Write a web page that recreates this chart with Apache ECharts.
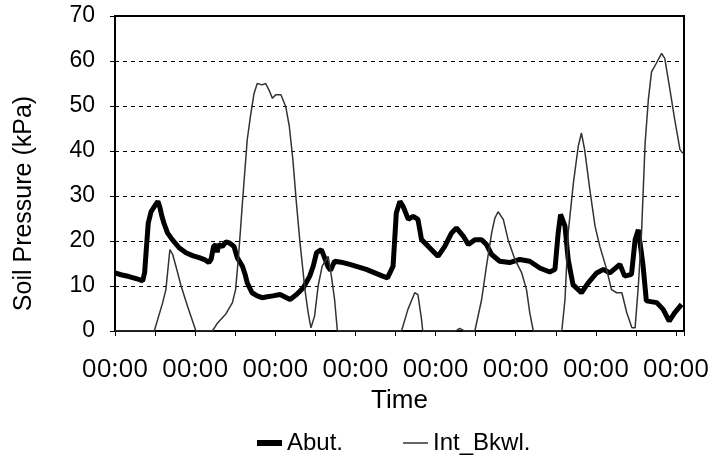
<!DOCTYPE html>
<html>
<head>
<meta charset="utf-8">
<script src="https://cdn.jsdelivr.net/npm/echarts@6/dist/echarts.min.js"></script>
<style>
  html, body { margin: 0; padding: 0; background: #fff; }
  #chart { width: 714px; height: 465px; }
</style>
</head>
<body>
<div id="chart"></div>
<script>
// time axis is in tick units (one unit per tick, label every 2 ticks)
const tickLabels = ['00:00', '00:00', '00:00', '00:00', '00:00', '00:00', '00:00', '00:00']

const abutTime = [
  0.00, 0.15, 0.35, 0.55, 0.69, 0.74, 0.78, 0.83, 0.90, 0.97, 1.07, 1.12, 1.17, 1.22, 1.31, 1.43,
  1.60, 1.77, 1.95, 2.10, 2.25, 2.34, 2.40, 2.46, 2.51, 2.55, 2.59, 2.68, 2.77, 2.85, 2.97, 3.05,
  3.18, 3.25, 3.30, 3.42, 3.55, 3.67, 3.80, 3.94, 4.12, 4.28, 4.37, 4.53, 4.70, 4.86, 4.95, 5.03,
  5.15, 5.23, 5.32, 5.38, 5.48, 5.64, 5.86, 6.27, 6.68, 6.80, 6.94, 7.02, 7.11, 7.19, 7.32, 7.44,
  7.56, 7.65, 7.82, 8.06, 8.23, 8.40, 8.52, 8.69, 8.82, 8.98, 9.15, 9.27, 9.40, 9.60, 9.85, 10.10,
  10.35, 10.60, 10.85, 10.98, 11.06, 11.12, 11.23, 11.31, 11.43, 11.64, 11.81, 12.02, 12.19, 12.35,
  12.60, 12.72, 12.89, 12.98, 13.06, 13.18, 13.26, 13.52, 13.68, 13.83, 13.97, 14.14
]
const abutValues = [
  12.9, 12.5, 12.1, 11.6, 11.1, 13.0, 18.0, 24.0, 26.5, 27.5, 28.8, 27.5, 25.5, 24.0, 21.8, 20.3,
  18.5, 17.4, 16.7, 16.3, 15.8, 15.2, 16.0, 18.8, 19.2, 17.5, 19.2, 18.8, 19.8, 19.6, 18.8, 16.3,
  14.4, 12.5, 10.7, 8.5, 7.8, 7.4, 7.6, 7.8, 8.1, 7.4, 7.0, 8.1, 9.6, 12.2, 14.5, 17.4,
  18.1, 16.3, 14.2, 13.5, 15.5, 15.3, 14.8, 13.7, 12.2, 11.8, 14.4, 26.2, 28.8, 27.7, 24.8, 25.5,
  24.8, 20.3, 18.8, 16.6, 18.8, 21.8, 22.9, 21.1, 19.2, 20.3, 20.3, 19.2, 17.0, 15.5, 15.2, 15.9,
  15.5, 14.0, 13.1, 13.7, 21.8, 25.9, 23.3, 15.9, 10.3, 8.5, 10.7, 12.9, 13.7, 12.9,
  14.8, 12.2, 12.6, 20.3, 22.5, 14.4, 6.7, 6.3, 4.8, 2.2, 4.1, 5.9
]

const bkwlTime = [
  0.00, 0.98, 1.19, 1.27, 1.37, 1.44, 1.52, 1.65, 1.81, 2.02, 2.43, 2.56, 2.76, 2.93, 3.01, 3.09,
  3.18, 3.30, 3.38, 3.47, 3.55, 3.67, 3.76, 3.84, 3.93, 4.01, 4.14, 4.26, 4.35, 4.44, 4.52, 4.61,
  4.74, 4.82, 4.89, 4.98, 5.07, 5.17, 5.32, 5.40, 5.48, 5.55, 7.15, 7.31, 7.48, 7.56, 7.65, 7.68,
  8.50, 8.60, 8.72, 8.98, 9.15, 9.27, 9.40, 9.48, 9.56, 9.69, 9.81, 9.98, 10.15, 10.27, 10.35, 10.44,
  11.15, 11.23, 11.31, 11.44, 11.56, 11.64, 11.72, 11.85, 11.98, 12.10, 12.27, 12.39, 12.52, 12.65,
  12.77, 12.90, 12.98, 13.06, 13.14, 13.23, 13.31, 13.39, 13.51, 13.64, 13.72, 13.85, 13.97, 14.10, 14.17
]
const bkwlValues = [
  0, 0, 6.3, 9.2, 18.1, 17.0, 14.4, 10.0, 5.5, 0, 0, 1.8, 3.7, 6.3, 9.2, 17.4,
  28.5, 42.5, 47.7, 52.8, 55.0, 54.7, 55.0, 53.6, 51.7, 52.5, 52.5, 49.9, 45.5, 38.0, 29.2, 20.3,
  9.2, 4.1, 0.7, 3.3, 10.0, 14.4, 16.6, 12.2, 7.0, 0, 0, 4.8, 8.5, 8.1, 2.6, 0,
  0, 0.6, 0, 0, 7.0, 14.4, 21.8, 25.1, 26.5, 24.8, 20.3, 15.9, 12.9, 9.2, 4.1, 0,
  0, 7.0, 21.8, 32.9, 41.0, 44.0, 40.3, 31.4, 23.3, 18.8, 13.7, 9.2, 8.5, 8.5,
  4.1, 0.7, 0.7, 10.0, 21.8, 41.8, 51.4, 57.6, 59.5, 61.7, 60.6, 53.6, 46.9, 40.3, 39.5
]

const pairs = (xs, ys) => xs.map((x, i) => [x, ys[i]])

const chart = echarts.init(document.getElementById('chart'))

const option = {
  animation: false,
  backgroundColor: '#fff',
  grid: {
    left: 115,
    right: 30,
    top: 16,
    bottom: 134,
    show: true,
    borderColor: '#000',
    borderWidth: 2
  },
  legend: {
    left: 252,
    top: 426,
    itemWidth: 25,
    itemHeight: 6,
    itemGap: 60,
    textStyle: {
      fontFamily: 'Liberation Sans',
      fontSize: 24,
      color: '#000'
    },
    data: [
      { name: 'Abut.', icon: 'path://M0,0 H25 V6 H0 Z', itemStyle: { color: '#000' } },
      { name: 'Int_Bkwl.', icon: 'path://M0,0 L0.01,0 M0,2.2 H25 V3.8 H0 Z M24.99,6 L25,6', itemStyle: { color: '#333' } }
    ]
  },
  xAxis: {
    type: 'value',
    min: 0,
    max: 14.2,
    interval: 1,
    name: 'Time',
    nameLocation: 'middle',
    nameGap: 56,
    nameTextStyle: {
      fontFamily: 'Liberation Sans',
      fontSize: 26,
      color: '#000'
    },
    axisLine: { lineStyle: { color: '#000', width: 2 } },
    axisTick: { length: 5, lineStyle: { color: '#000' } },
    splitLine: { show: false },
    axisLabel: {
      margin: 26,
      fontFamily: '"Open Sans", Lato, sans-serif',
      fontSize: 26,
      color: '#000',
      formatter: v => {
        const i = Math.round(v)
        if (Math.abs(v - i) > 1e-6 || i % 2 !== 0) return ''
        return tickLabels[i / 2] || ''
      }
    }
  },
  yAxis: {
    type: 'value',
    min: 0,
    max: 70,
    interval: 10,
    name: 'Soil Pressure (kPa)',
    nameLocation: 'middle',
    nameGap: 78,
    nameTextStyle: {
      fontFamily: 'Liberation Sans',
      fontSize: 25,
      color: '#000',
      padding: [0, 60, 0, 0]
    },
    axisLine: { show: true, lineStyle: { color: '#000', width: 2 } },
    axisTick: { show: true, length: 5, lineStyle: { color: '#000' } },
    splitLine: { lineStyle: { color: '#000', type: [4, 4], width: 1 } },
    axisLabel: {
      margin: 20,
      fontFamily: 'Liberation Sans',
      fontSize: 23,
      color: '#000'
    }
  },
  series: [
    {
      name: 'Abut.',
      type: 'line',
      data: pairs(abutTime, abutValues),
      showSymbol: false,
      symbol: 'none',
      lineStyle: { color: '#000', width: 5 },
      itemStyle: { color: '#000' }
    },
    {
      name: 'Int_Bkwl.',
      type: 'line',
      data: pairs(bkwlTime, bkwlValues),
      showSymbol: false,
      symbol: 'none',
      lineStyle: { color: '#333', width: 1.5 },
      itemStyle: { color: '#333' }
    }
  ]
}

chart.setOption(option)
</script>
</body>
</html>
